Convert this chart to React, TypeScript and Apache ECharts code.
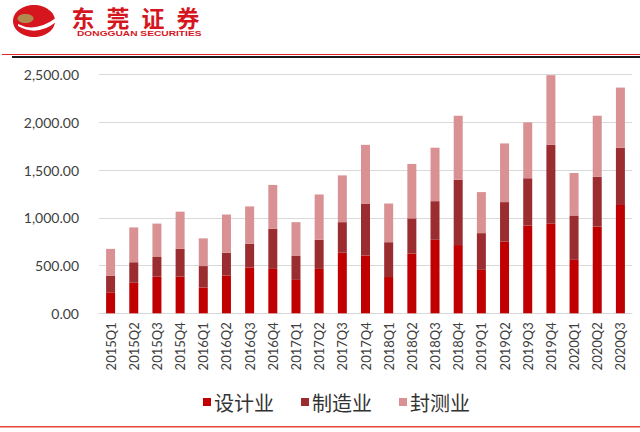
import React, { useEffect, useRef } from "react";
import * as echarts from "echarts";

const categories = [
  "2015Q1", "2015Q2", "2015Q3", "2015Q4",
  "2016Q1", "2016Q2", "2016Q3", "2016Q4",
  "2017Q1", "2017Q2", "2017Q3", "2017Q4",
  "2018Q1", "2018Q2", "2018Q3", "2018Q4",
  "2019Q1", "2019Q2", "2019Q3", "2019Q4",
  "2020Q1", "2020Q2", "2020Q3",
];
const design = [220, 320, 385, 385, 270, 395, 480, 465, 350, 465, 635, 605, 380, 625, 770, 715, 455, 750, 920, 940, 560, 910, 1135];
const manufacturing = [175, 215, 205, 290, 225, 240, 250, 420, 255, 305, 320, 545, 365, 370, 405, 685, 385, 415, 495, 825, 465, 520, 600];
const packaging = [280, 365, 350, 390, 290, 400, 390, 460, 350, 475, 490, 615, 405, 570, 560, 670, 430, 615, 585, 730, 445, 640, 630];
const seriesNames = ["设计业", "制造业", "封测业"];
const titleChars = ["东", "莞", "证", "券"];
const subTitle = "DONGGUAN SECURITIES";

const SWOOSH = "M5 19 Q22 28 43 13 L43 17 Q24 32 5 21 Z";
const NOTCH = "M36 1 Q44 4 43 12 Q40 7 35 4 Z";

export default function App() {
  const ref = useRef<HTMLDivElement>(null);
  useEffect(() => {
    document.body.style.margin = "0";
    echarts.graphic.registerShape("logoSwoosh", echarts.graphic.extendPath(SWOOSH, {}));
    echarts.graphic.registerShape("logoNotch", echarts.graphic.extendPath(NOTCH, {}));
    const chart = echarts.init(ref.current!, undefined, { renderer: "svg" });

    const titleEls = titleChars.map((c, i) => ({
      type: "text",
      x: 83 + i * 35,
      y: 17,
      style: {
        text: c,
        fontSize: 23,
        fontWeight: "bold",
        fontFamily: "Noto Sans CJK SC",
        fill: "#d6161e",
        align: "center",
        verticalAlign: "middle",
        textAlign: "center",
        textVerticalAlign: "middle",
      },
    }));

    chart.setOption({
      animation: false,
      backgroundColor: "#ffffff",
      color: ["#c00000", "#9b2d30", "#d99193"],
      grid: { left: 99, right: 8, top: 74.7, bottom: 118.7, containLabel: false },
      legend: {
        data: seriesNames,
        bottom: 15,
        left: 198,
        icon: "rect",
        itemWidth: 8,
        itemHeight: 8,
        itemGap: 27,
        textStyle: { fontSize: 20, color: "#333333", fontFamily: "Noto Sans CJK SC", padding: [0, 0, 0, -2] },
      },
      xAxis: {
        type: "category",
        data: categories,
        axisLine: { show: true, lineStyle: { color: "#d9d9d9", width: 1 } },
        axisTick: { show: false },
        axisLabel: {
          rotate: 90,
          interval: 0,
          margin: 9,
          fontSize: 13,
          color: "#404040",
          fontFamily: "Lato",
        },
      },
      yAxis: {
        type: "value",
        min: 0,
        max: 2500,
        interval: 500,
        axisLine: { show: false },
        axisTick: { show: false },
        splitLine: { lineStyle: { color: "#d9d9d9", width: 1 } },
        axisLabel: {
          margin: 20,
          fontSize: 14,
          color: "#404040",
          fontFamily: "Lato",
          formatter: (v: number) =>
            v.toLocaleString("en-US", { minimumFractionDigits: 2, maximumFractionDigits: 2 }),
        },
      },
      series: [
        { name: seriesNames[0], type: "bar", stack: "total", barWidth: 9, data: design },
        { name: seriesNames[1], type: "bar", stack: "total", barWidth: 9, data: manufacturing },
        { name: seriesNames[2], type: "bar", stack: "total", barWidth: 9, data: packaging },
      ],
      graphic: [
        { type: "ellipse", shape: { cx: 34, cy: 21, rx: 21, ry: 16 }, style: { fill: "#d6161e" } },
        { type: "ellipse", shape: { cx: 25.5, cy: 18.5, rx: 8, ry: 4.5 }, style: { fill: "#b08a4e" } },
        { type: "logoSwoosh", x: 13, y: 5, style: { fill: "#ffffff" } },
        { type: "logoNotch", x: 13, y: 5, style: { fill: "#ffffff" } },
        ...titleEls,
        {
          type: "text",
          x: 77,
          y: 33,
          scaleX: 1.36,
          style: {
            text: subTitle,
            fontSize: 7.5,
            fontWeight: "bold",
            fontFamily: "Liberation Sans",
            fill: "#d6161e",
            align: "left",
            verticalAlign: "middle",
            textAlign: "left",
            textVerticalAlign: "middle",
          },
        },
        { type: "line", shape: { x1: 2, y1: 54.5, x2: 640, y2: 54.5 }, style: { stroke: "#e0262b", lineWidth: 1 } },
        { type: "line", shape: { x1: 12, y1: 57, x2: 640, y2: 57 }, style: { stroke: "#1a1a1a", lineWidth: 2 } },
        { type: "line", shape: { x1: 0, y1: 426.7, x2: 640, y2: 426.7 }, style: { stroke: "#e8453c", lineWidth: 1.5 } },
      ],
    });
    return () => chart.dispose();
  }, []);
  return (
    <div
      ref={ref}
      style={{ position: "fixed", left: 0, top: 0, width: 640, height: 432 }}
    />
  );
}
